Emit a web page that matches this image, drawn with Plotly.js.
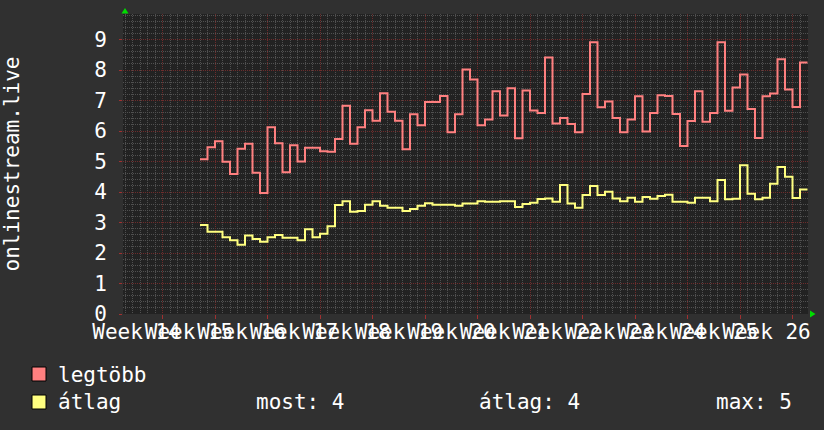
<!DOCTYPE html>
<html>
<head>
<meta charset="utf-8">
<script src="https://cdn.plot.ly/plotly-3.0.1.min.js"></script>
<style>
html,body{margin:0;padding:0;background:#303030;}
#chart{width:824px;height:430px;}
</style>
</head>
<body>
<div id="chart"></div>
<script>
// daily samples (day index 0..80)
const legtobb = [5.07,5.47,5.66,4.99,4.59,5.42,5.58,4.63,3.97,6.12,5.6,4.65,5.53,5.0,5.45,5.45,5.34,5.32,5.74,6.83,5.58,6.12,6.68,6.34,7.24,6.63,6.34,
5.40,6.55,6.19,6.95,6.95,7.15,5.96,6.55,8.02,7.69,6.19,6.38,7.3,6.51,7.4,5.76,7.33,6.67,6.59,8.41,6.25,6.43,6.23,5.96,7.21,8.91,6.78,
6.97,6.43,5.96,6.38,7.14,5.98,6.59,7.17,7.15,6.56,5.51,6.33,7.3,6.3,6.59,8.91,6.66,7.43,7.85,6.72,5.77,7.14,7.23,8.35,7.36,6.79,8.25];
const atlag = [2.92,2.70,2.70,2.52,2.42,2.27,2.57,2.46,2.37,2.52,2.59,2.50,2.50,2.42,2.78,2.52,2.63,2.88,3.57,3.70,3.35,3.38,3.58,3.70,3.55,3.48,3.48,
3.38,3.44,3.55,3.63,3.58,3.58,3.58,3.55,3.62,3.62,3.70,3.68,3.68,3.70,3.70,3.51,3.61,3.65,3.77,3.79,3.68,4.23,3.62,3.48,3.90,4.20,3.90,
4.01,3.79,3.70,3.81,3.68,3.84,3.78,3.87,3.91,3.68,3.68,3.65,3.81,3.81,3.70,4.39,3.76,3.78,4.88,3.94,3.76,3.81,4.27,4.82,4.50,3.80,4.08];
const weekLabels = ["Week 14","Week 15","Week 16","Week 17","Week 18","Week 19","Week 20","Week 21","Week 22","Week 23","Week 24","Week 25","Week 26"];
const weekStarts = [-5,2,9,16,23,30,37,44,51,58,65,72,79];
const yTicks = [0,1,2,3,4,5,6,7,8,9];
const seriesNames = ["legtöbb","átlag"];
const statLabels = ["most: 4","átlag: 4","max: 5"];

function stepX(n){const a=[];for(let i=0;i<=n;i++)a.push(i);return a;}
function stepY(v){return v.concat([v[v.length-1]]);}

const FONT = "DejaVu Sans Mono";
const RED = "#ff8080", YEL = "#ffff80";

const traces = [
  {x: stepX(legtobb.length), y: stepY(legtobb), type:"scatter", mode:"lines", name:seriesNames[0],
   line:{shape:"hv", color:RED, width:2}, hoverinfo:"skip"},
  {x: stepX(atlag.length), y: stepY(atlag), type:"scatter", mode:"lines", name:seriesNames[1],
   line:{shape:"hv", color:YEL, width:2}, hoverinfo:"skip"}
];

// pixel helpers for decorations (plot area 123..808 x 14..314)
const L=123, R=808, T=14, B=314;
const px = v => (v-L)/(R-L);
const py = v => (B-v)/(B-T);

const shapes = [
  {type:"rect", xref:"paper", yref:"paper", x0:px(32), x1:px(46), y0:py(367), y1:py(381), fillcolor:RED, line:{color:"#000", width:1}},
  {type:"rect", xref:"paper", yref:"paper", x0:px(32), x1:px(46), y0:py(395), y1:py(409), fillcolor:YEL, line:{color:"#000", width:1}},
  {type:"path", xref:"paper", yref:"paper", path:`M ${px(121.5)} ${py(13.5)} L ${px(128.5)} ${py(13.5)} L ${px(125)} ${py(8)} Z`, fillcolor:"#00dd00", line:{width:0}},
  {type:"path", xref:"paper", yref:"paper", path:`M ${px(810)} ${py(310.5)} L ${px(810)} ${py(317.5)} L ${px(815.5)} ${py(314)} Z`, fillcolor:"#00dd00", line:{width:0}}
];

const tf = {family:FONT, size:21, color:"#ffffff"};
const annotations = [
  {xref:"paper", yref:"paper", x:px(56), y:py(375), xanchor:"left", yanchor:"middle", text:seriesNames[0], showarrow:false, font:tf},
  {xref:"paper", yref:"paper", x:px(56), y:py(402), xanchor:"left", yanchor:"middle", text:seriesNames[1], showarrow:false, font:tf},
  {xref:"paper", yref:"paper", x:px(254), y:py(402), xanchor:"left", yanchor:"middle", text:statLabels[0], showarrow:false, font:tf},
  {xref:"paper", yref:"paper", x:px(477), y:py(402), xanchor:"left", yanchor:"middle", text:statLabels[1], showarrow:false, font:tf},
  {xref:"paper", yref:"paper", x:px(714), y:py(402), xanchor:"left", yanchor:"middle", text:statLabels[2], showarrow:false, font:tf}
];

const layout = {
  width:824, height:430,
  paper_bgcolor:"#303030", plot_bgcolor:"#222222",
  margin:{l:L, r:824-R, t:T, b:430-B, pad:0},
  showlegend:false,
  font:tf,
  xaxis:{
    range:[(L-200)/7.5, (R-200)/7.5], fixedrange:true,
    tickmode:"array", tickvals:weekStarts, ticktext:weekLabels, tickangle:0,
    ticklabelshift:-26, ticklabelstandoff:-5, ticks:"outside", ticklen:4, tickcolor:"#a03030", tickwidth:1,
    showgrid:true, gridcolor:"#6e2c2c", griddash:"1px,1px", gridwidth:1,
    zeroline:false, showline:false, tickfont:tf, automargin:false,
    minor:{tickmode:"linear", tick0:-5, dtick:1, showgrid:true, gridcolor:"#505050", griddash:"1px,1px", gridwidth:1}
  },
  yaxis:{
    range:[0, (B-T)/30.5], fixedrange:true,
    tickmode:"array", tickvals:yTicks, ticktext:yTicks.map(String),
    ticks:"outside", ticklen:3, tickcolor:"#a03030",
    showgrid:true, gridcolor:"#6e2c2c", griddash:"1px,1px", gridwidth:1,
    zeroline:false, showline:false, tickfont:tf, automargin:false, ticklabelstandoff:8,
    title:{text:"onlinestream.live", font:tf, standoff:68},
    minor:{tickmode:"linear", tick0:0, dtick:0.2, showgrid:true, gridcolor:"#505050", griddash:"1px,1px", gridwidth:1}
  },
  shapes:shapes,
  annotations:annotations
};

Plotly.newPlot("chart", traces, layout, {staticPlot:true, displayModeBar:false});
</script>
</body>
</html>
